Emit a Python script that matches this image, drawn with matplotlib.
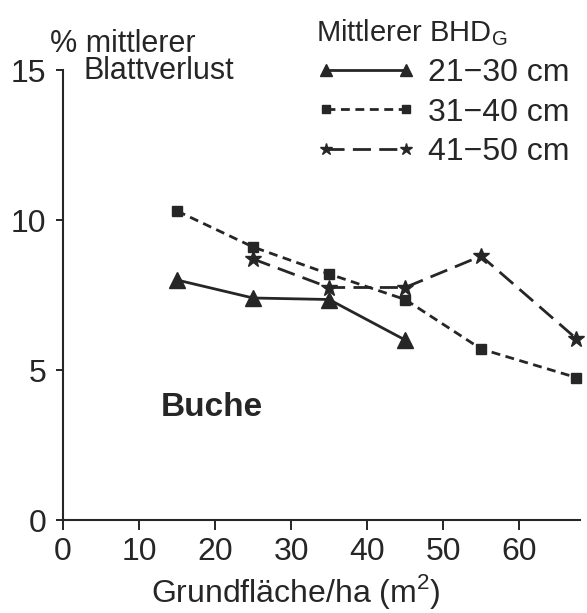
import matplotlib
matplotlib.use("Agg")
import matplotlib.pyplot as plt

plt.rcParams['font.family'] = ['Liberation Sans', 'DejaVu Sans']

# Grundfläche/ha (m2) and % mittlerer Blattverlust
x_21_30 = [15, 25, 35, 45]
y_21_30 = [8.0, 7.4, 7.35, 6.0]
x_31_40 = [15, 25, 35, 45, 55, 67.5]
y_31_40 = [10.3, 9.1, 8.2, 7.35, 5.7, 4.75]
x_41_50 = [25, 35, 45, 55, 67.5]
y_41_50 = [8.7, 7.75, 7.75, 8.8, 6.05]

labels = ["21\u221230 cm", "31\u221240 cm", "41\u221250 cm"]
xticks = [0, 10, 20, 30, 40, 50, 60]
yticks = [0, 5, 10, 15]

ink = "#262626"

fig = plt.figure(figsize=(5.87, 6.13), dpi=100)
ax = fig.add_axes([63 / 587, 93 / 613, 517 / 587, 450 / 613])

l1, = ax.plot(x_21_30, y_21_30, color=ink, lw=2.0, ls="-",
              marker="^", ms=12, clip_on=False)
l2, = ax.plot(x_31_40, y_31_40, color=ink, lw=2.0, ls=(0, (3.2, 2)),
              marker="s", ms=7.5, clip_on=False)
l3, = ax.plot(x_41_50, y_41_50, color=ink, lw=2.0, ls=(0, (6.5, 3)),
              marker="*", ms=12, clip_on=False)

ax.set_xlim(0, 68)
ax.set_ylim(0, 15)
ax.set_xticks(xticks)
ax.set_yticks(yticks)
ax.tick_params(axis="both", labelsize=23, colors=ink, width=1.4)
ax.tick_params(axis="x", length=7, pad=5)
ax.tick_params(axis="y", length=5, pad=7)
for s in ["top", "right"]:
    ax.spines[s].set_visible(False)
for s in ["left", "bottom"]:
    ax.spines[s].set_linewidth(1.5)
    ax.spines[s].set_color(ink)

ax.set_xlabel("Grundfläche/ha (m$^\\mathregular{2}$)", fontsize=23, color=ink)
ax.xaxis.set_label_coords(0.45, -0.115)

fig.text(50 / 587, 1 - 44 / 613, "% mittlerer", fontsize=22, color=ink, va="center")
fig.text(84 / 587, 1 - 71 / 613, "Blattverlust", fontsize=22, color=ink, va="center")
fig.text(161 / 587, 1 - 408 / 613, "Buche", fontsize=24, fontweight="bold",
         color=ink, va="center")

leg = ax.legend([l1, l2, l3], labels, title="Mittlerer BHD$_\\mathregular{G}$",
                loc="upper right", bbox_to_anchor=(1.0, 1.0),
                bbox_transform=fig.transFigure, frameon=False, numpoints=2,
                fontsize=23, title_fontsize=21, handlelength=3.1,
                handletextpad=0.4, labelspacing=0.3, markerscale=0.75,
                alignment="left", borderaxespad=0.15)
for t in leg.get_texts():
    t.set_color(ink)
leg.get_title().set_color(ink)

fig.savefig("out.png", dpi=100)
